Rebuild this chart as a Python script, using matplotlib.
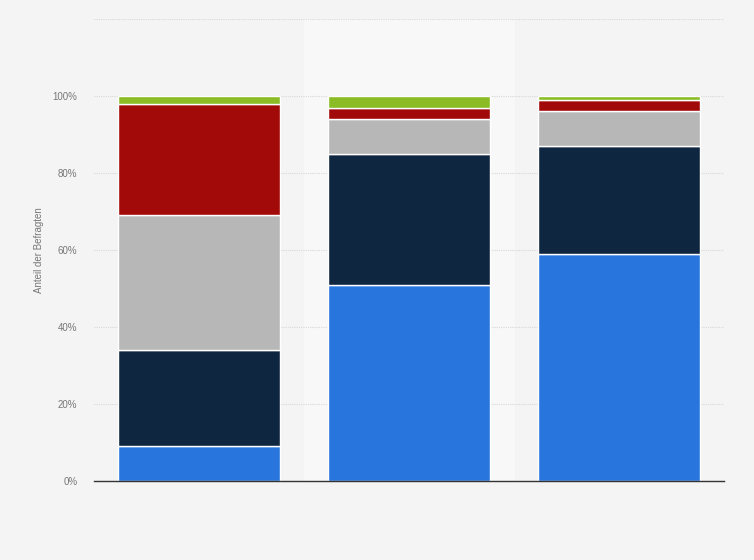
import matplotlib.pyplot as plt
import numpy as np

plt.rcParams["font.family"] = ["Liberation Sans", "DejaVu Sans"]

# Daten (Anteil der Befragten in %)
kategorien = ["A", "B", "C"]
blau = [9, 51, 59]
dunkelblau = [25, 34, 28]
grau = [35, 9, 9]
rot = [29, 3, 3]
gruen = [2, 3, 1]

serien = [blau, dunkelblau, grau, rot, gruen]
farben = ["#2876dd", "#0f2640", "#b7b7b7", "#a20a0a", "#8bbb25"]

fig = plt.figure(figsize=(7.54, 5.60), dpi=100)
fig.patch.set_facecolor("#f4f4f4")
ax = fig.add_axes([94 / 754, 1 - 481 / 560, 630 / 754, 462 / 560])
ax.set_facecolor("#f4f4f4")

x = np.arange(len(kategorien))

# hervorgehobene mittlere Spalte
ax.axvspan(0.5, 1.5, color="#f8f8f8", zorder=0)

unten = np.zeros(len(kategorien))
for werte, farbe in zip(serien, farben):
    ax.bar(x, werte, 0.77, bottom=unten, color=farbe,
           edgecolor="white", linewidth=1, zorder=3)
    unten += np.array(werte)

ax.set_xlim(-0.5, 2.5)
ax.set_ylim(0, 120)
ax.set_yticks([0, 20, 40, 60, 80, 100, 120])
ax.set_yticklabels(["0%", "20%", "40%", "60%", "80%", "100%", ""])
ax.set_xticks([])

ax.grid(axis="y", color="#d8d8d8", linestyle=(0, (1, 1)), linewidth=0.8, zorder=1)
ax.set_axisbelow(True)

for s in ["top", "right", "left"]:
    ax.spines[s].set_visible(False)
ax.spines["bottom"].set_color("#333333")
ax.spines["bottom"].set_linewidth(1)
ax.spines["bottom"].set_zorder(4)

ax.tick_params(axis="y", length=0, labelsize=7, labelcolor="#777777", pad=12)
ax.set_ylabel("Anteil der Befragten", fontsize=7, color="#777777", labelpad=6)

fig.savefig("out.png", dpi=100, facecolor=fig.get_facecolor())
